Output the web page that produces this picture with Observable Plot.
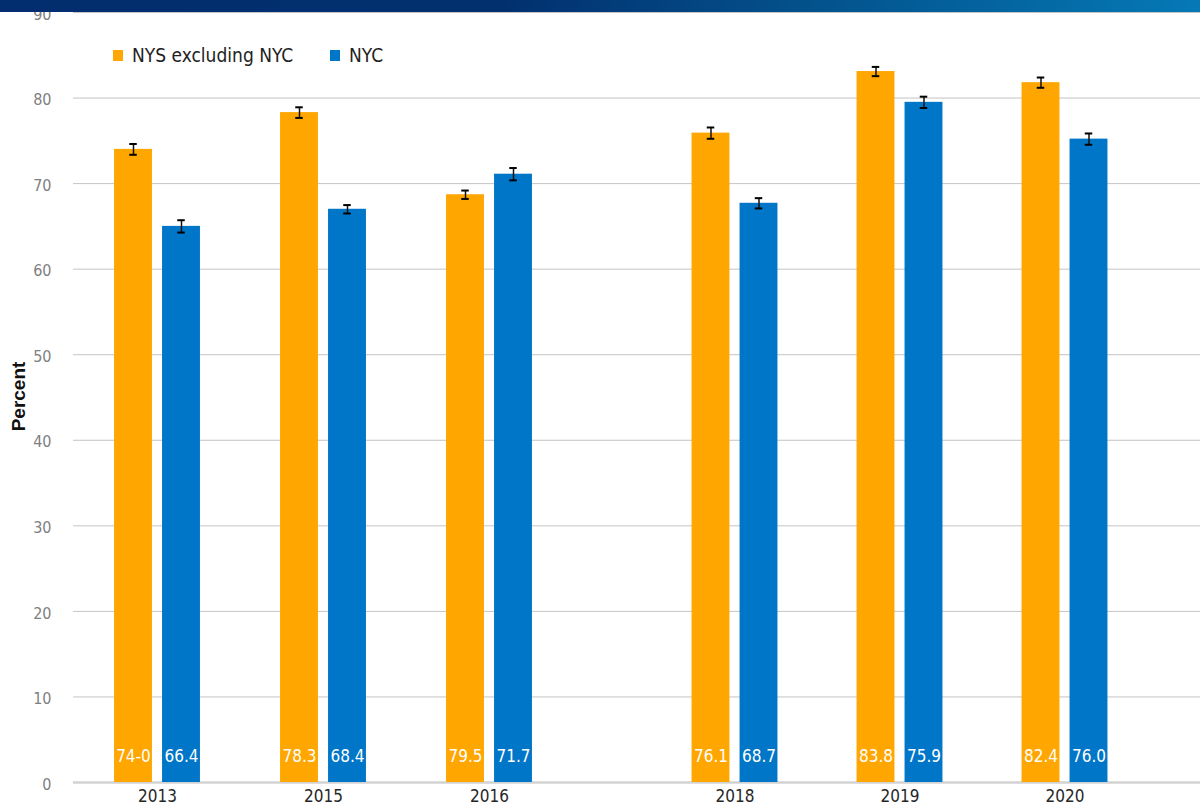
<!DOCTYPE html>
<html>
<head>
<meta charset="utf-8">
<script src="https://cdn.jsdelivr.net/npm/d3@7"></script>
<script src="https://cdn.jsdelivr.net/npm/@observablehq/plot@0.6"></script>
<style>
  body { margin: 0; background: #fff; }
  #wrap { position: relative; width: 1200px; height: 807px; overflow: hidden;
          font-family: "Liberation Sans Narrow", "DejaVu Sans Condensed", sans-serif; }
  #charts { display: flex; position: absolute; left: 0; top: 0; }
  #banner { position: absolute; left: 0; top: 0; width: 1200px; height: 12px;
            background: linear-gradient(90deg, #022d6e 0%, #02306f 42%, #03558f 70%, #0579b6 100%); }
  .item { position: absolute; top: 42px; display: flex; align-items: center;
          font-size: 19px; color: #222; line-height: 26px; }
  .sw { width: 10px; height: 11px; margin-right: 9px; }
</style>
</head>
<body>
<div id="wrap">
  <div id="charts"></div>
  <div id="legend"></div>
  <div id="banner"></div>
</div>
<script>
// ---- data ----
const years = ["2013", "2015", "2016", "2018", "2019", "2020"];
const seriesNames = ["NYS excluding NYC", "NYC"];
const seriesColors = ["#FFA600", "#0076C8"];
const nysValues = [74.0, 78.3, 68.7, 75.9, 83.1, 81.8];
const nycValues = [65.0, 67.0, 71.1, 67.7, 79.5, 75.2];
const nysErrors = [0.63, 0.62, 0.49, 0.66, 0.54, 0.60];
const nycErrors = [0.72, 0.49, 0.72, 0.60, 0.66, 0.66];
const nysLabels = ["74-0", "78.3", "79.5", "76.1", "83.8", "82.4"];
const nycLabels = ["66.4", "68.4", "71.7", "68.7", "75.9", "76.0"];
const yTicks = [0, 10, 20, 30, 40, 50, 60, 70, 80, 90];
const yLabel = "Percent";

const rows = years.map((year, i) => ({
  year,
  nys: nysValues[i], nyc: nycValues[i],
  nysErr: nysErrors[i], nycErr: nycErrors[i],
  nysLabel: nysLabels[i], nycLabel: nycLabels[i]
}));

const FONT = '"Liberation Sans Narrow", "DejaVu Sans Condensed", sans-serif';
const OFF = 24, BARW = 38.4, CAPW = 8;

function panel(data, cfg) {
  const step = (cfg.range[1] - cfg.range[0]) / data.length;
  const half = step / 2;
  const marks = [
    Plot.ruleY(yTicks, {stroke: "#c4c4c4", strokeWidth: 1}),
    Plot.ruleY([0], {stroke: "#d2d2d2", strokeWidth: 2.5}),
    Plot.barY(data, {x: "year", y: "nys", fill: seriesColors[0],
      insetLeft: half - OFF - BARW / 2, insetRight: half + OFF - BARW / 2}),
    Plot.barY(data, {x: "year", y: "nyc", fill: seriesColors[1],
      insetLeft: half + OFF - BARW / 2, insetRight: half - OFF - BARW / 2}),
    // error bars
    Plot.ruleX(data, {x: "year", y1: d => d.nys - d.nysErr, y2: d => d.nys + d.nysErr, dx: -OFF, stroke: "#111", strokeWidth: 1.5}),
    Plot.ruleX(data, {x: "year", y1: d => d.nyc - d.nycErr, y2: d => d.nyc + d.nycErr, dx: OFF, stroke: "#111", strokeWidth: 1.5}),
    ...[d => d.nys - d.nysErr, d => d.nys + d.nysErr].map(f =>
      Plot.tickY(data, {x: "year", y: f, stroke: "#000", strokeWidth: 2,
        insetLeft: half - OFF - CAPW / 2, insetRight: half + OFF - CAPW / 2})),
    ...[d => d.nyc - d.nycErr, d => d.nyc + d.nycErr].map(f =>
      Plot.tickY(data, {x: "year", y: f, stroke: "#000", strokeWidth: 2,
        insetLeft: half + OFF - CAPW / 2, insetRight: half - OFF - CAPW / 2})),
    // value labels at the bar foot
    Plot.text(data, {x: "year", y: () => 0, text: "nysLabel", dx: -OFF, dy: -26, fill: "white", fontSize: 17}),
    Plot.text(data, {x: "year", y: () => 0, text: "nycLabel", dx: OFF, dy: -26, fill: "white", fontSize: 17}),
    Plot.axisX({tickSize: 0, tickPadding: 7, fontSize: 17, fill: "#262626", label: null})
  ];
  if (cfg.yAxis) {
    marks.push(Plot.axisY({ticks: yTicks, tickSize: 0, tickPadding: 22, fontSize: 16, fill: "#808080", label: null, dy: 2}));
    marks.push(Plot.text([yLabel], {frameAnchor: "left", textAnchor: "middle", dx: -55, dy: -1, rotate: -90, fontWeight: "bold",
      fontSize: 19, fontFamily: '"Liberation Sans", Arial, sans-serif', fill: "#111"}));
  }
  return Plot.plot({
    width: cfg.width,
    height: 807,
    marginTop: 12,
    marginBottom: 25,
    marginLeft: cfg.marginLeft,
    marginRight: 0,
    style: {fontFamily: FONT, background: "transparent", overflow: "visible"},
    x: {type: "band", domain: data.map(d => d.year), range: cfg.range, padding: 0, label: null},
    y: {domain: [0, 90], label: null, ...(cfg.yAxis ? {} : {axis: null})},
    marks
  });
}

const charts = document.getElementById("charts");
charts.appendChild(panel(rows.slice(0, 3), {width: 611, marginLeft: 73, range: [73, 572.5], yAxis: true}));
charts.appendChild(panel(rows.slice(3), {width: 589, marginLeft: 0, range: [40.25, 536.75], yAxis: false}));

// legend
const legend = document.getElementById("legend");
const legendLeft = [113, 330];
seriesNames.forEach((name, i) => {
  const item = document.createElement("div");
  item.className = "item";
  item.style.left = legendLeft[i] + "px";
  const sw = document.createElement("div");
  sw.className = "sw";
  sw.style.background = seriesColors[i];
  const label = document.createElement("span");
  label.textContent = name;
  item.appendChild(sw);
  item.appendChild(label);
  legend.appendChild(item);
});
</script>
</body>
</html>
